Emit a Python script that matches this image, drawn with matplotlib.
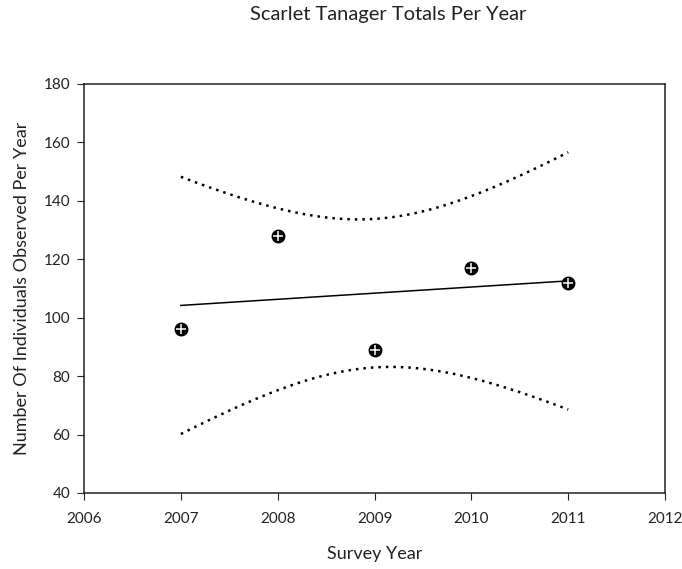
import numpy as np
import matplotlib.pyplot as plt

plt.rcParams['font.family'] = ['Lato', 'DejaVu Sans']

# observed totals per survey year
years = [2007, 2008, 2009, 2010, 2011]
totals = [96, 128, 89, 117, 112]

x = np.array(years, dtype=float)
y = np.array(totals, dtype=float)

# linear regression with 95% confidence band
slope, intercept = np.polyfit(x, y, 1)
n = len(x)
resid = y - (slope * x + intercept)
s = np.sqrt(np.sum(resid ** 2) / (n - 2))
t_crit = 3.182  # t(0.975, df=3)
sxx = np.sum((x - x.mean()) ** 2)
xs = np.linspace(x.min(), x.max(), 200)
fit = slope * xs + intercept
half = t_crit * s * np.sqrt(1 / n + (xs - x.mean()) ** 2 / sxx)

fig = plt.figure(figsize=(6.82, 5.69), dpi=100)
ax = fig.add_axes([0.1232, 0.1336, 0.852, 0.7188])

ax.plot(xs, fit, color='black', lw=1.1)
ax.plot(xs, fit + half, color='black', lw=1.8, ls=(0, (1, 2)))
ax.plot(xs, fit - half, color='black', lw=1.8, ls=(0, (1, 2)))
ax.plot(x, y, 'o', color='black', ms=9, zorder=3)
ax.plot(x, y, '+', color='white', ms=7.5, mew=1.1, zorder=4)

ax.set_xlim(2006, 2012)
ax.set_ylim(40, 180)
ax.set_xticks(range(2006, 2013))
ax.set_yticks(range(40, 181, 20))
ax.tick_params(direction='out', length=5, labelsize=11, colors='#222222')
ax.tick_params(axis='x', pad=9)
ax.tick_params(axis='y', pad=5)
for sp in ax.spines.values():
    sp.set_linewidth(1.1)
    sp.set_color('#222222')

ax.set_xlabel('Survey Year', fontsize=13, labelpad=14, color='#222222')
ax.set_ylabel('Number Of Individuals Observed Per Year', fontsize=13,
              labelpad=10, color='#222222')
fig.text(0.569, 0.975, 'Scarlet Tanager Totals Per Year', fontsize=14.5,
         ha='center', va='center', color='#222222')

fig.savefig('out.png', dpi=100)
